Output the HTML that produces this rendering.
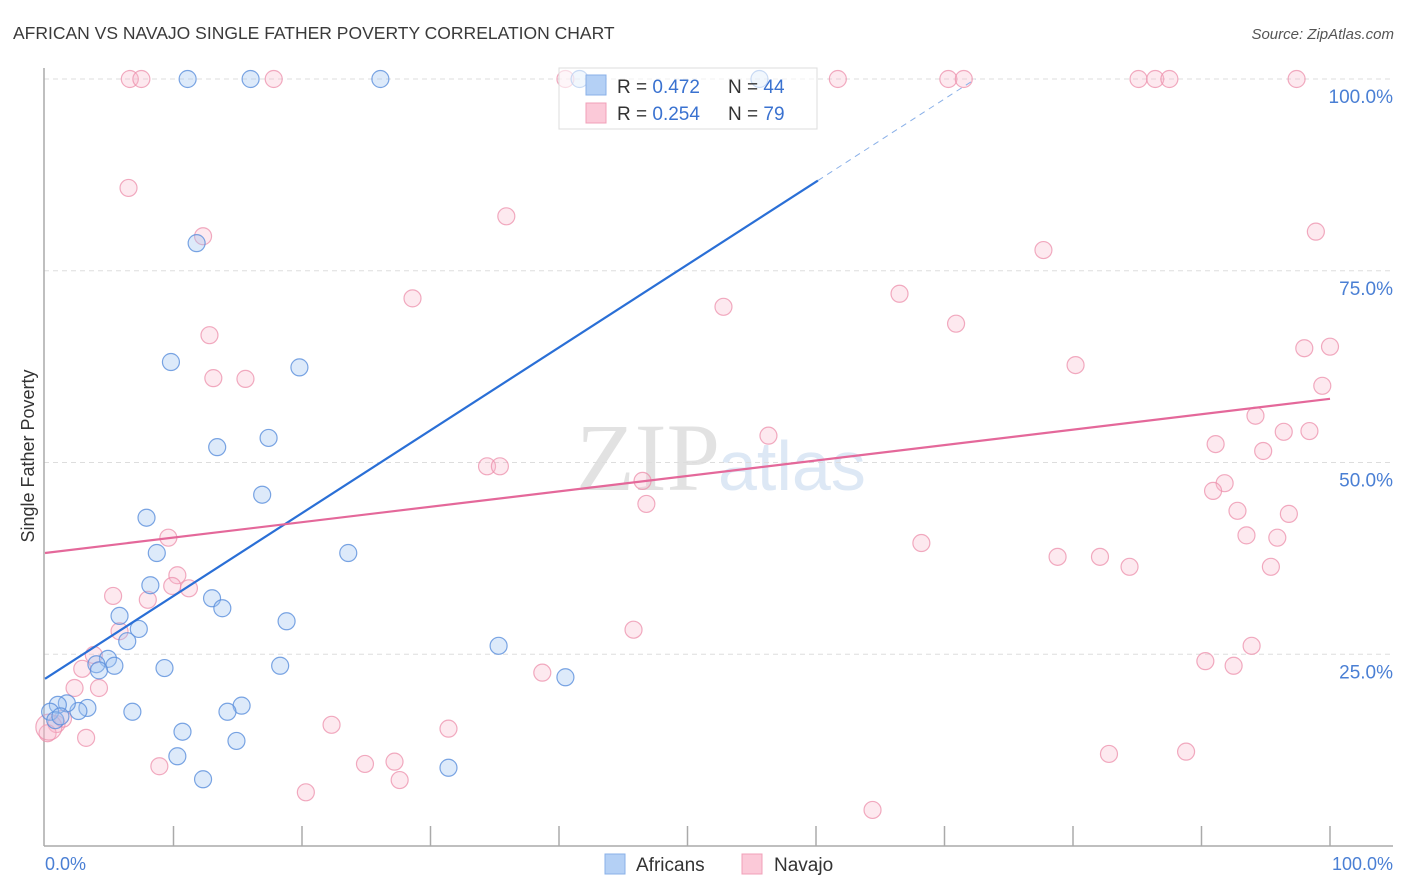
<!DOCTYPE html>
<html><head><meta charset="utf-8"><style>
body{margin:0;background:#fff;font-family:"Liberation Sans",sans-serif;}
svg{display:block}
</style></head><body>
<svg width="1406" height="892" xmlns="http://www.w3.org/2000/svg">
<text x="13" y="39" font-size="17.5" fill="#3a3a3a">AFRICAN VS NAVAJO SINGLE FATHER POVERTY CORRELATION CHART</text>
<text x="1394" y="39" font-size="15" font-style="italic" fill="#555" text-anchor="end">Source: ZipAtlas.com</text>
<text x="720" y="490" font-size="96" font-family="Liberation Serif,serif" fill="#e2e2e2" text-anchor="end">ZIP</text>
<text x="718" y="490" font-size="70" fill="#dde8f5">atlas</text>
<g id="grid"></g>
<g id="axes"></g>
<g id="pts"></g>
<g id="lines"></g>
<text transform="translate(34,456) rotate(-90)" font-size="18" fill="#333" text-anchor="middle">Single Father Poverty</text>
<text x="45" y="870" font-size="18" fill="#4a7fd4">0.0%</text>
<text x="1393" y="870" font-size="18" fill="#4a7fd4" text-anchor="end">100.0%</text>
<g>
<rect x="559" y="68" width="258" height="61" fill="#fff" fill-opacity="0.6" stroke="#ddd"/>
<rect x="586" y="75" width="20" height="20" fill="#b4d0f5" stroke="#8ab0e8"/>
<rect x="586" y="103" width="20" height="20" fill="#fbc9d8" stroke="#f0a0b8"/>
<text x="617" y="93" font-size="19" fill="#333">R = <tspan fill="#3a72d0">0.472</tspan></text>
<text x="728" y="93" font-size="19" fill="#333">N = <tspan fill="#3a72d0">44</tspan></text>
<text x="617" y="120" font-size="19" fill="#333">R = <tspan fill="#3a72d0">0.254</tspan></text>
<text x="728" y="120" font-size="19" fill="#333">N = <tspan fill="#3a72d0"> 79</tspan></text>
</g>
<g>
<rect x="605" y="854" width="20" height="20" fill="#b4d0f5" stroke="#8ab0e8"/>
<text x="636" y="871" font-size="19" fill="#333">Africans</text>
<rect x="742" y="854" width="20" height="20" fill="#fbc9d8" stroke="#f0a0b8"/>
<text x="774" y="871" font-size="19" fill="#333">Navajo</text>
</g>
</svg>
<script>
const yTicks=[100,75,50,25];
const yTickLabels=["100.0%","75.0%","50.0%","25.0%"];
const xTicks=[10,20,30,40,50,60,70,80,90,100];
const africansX=[11.1,16.0,26.1,41.6,55.6,11.8,9.8,19.8,13.4,17.4,16.9,7.9,8.7,23.6,8.2,13.0,13.8,5.8,7.3,18.8,6.4,4.9,4.0,5.4,4.2,9.3,18.3,35.3,40.5,15.3,14.2,6.8,3.3,2.6,1.7,1.0,0.4,10.7,14.9,10.3,12.3,31.4,0.8,1.2];
const africansY=[100,100,100,100,100,78.6,63.1,62.4,52.0,53.2,45.8,42.8,38.2,38.2,34.0,32.3,31.0,30.0,28.3,29.3,26.7,24.4,23.7,23.5,22.9,23.2,23.5,26.1,22.0,18.3,17.5,17.5,18.0,17.6,18.6,18.4,17.5,14.9,13.7,11.7,8.7,10.2,16.4,16.9];
const navajoX=[6.6,7.5,17.8,40.5,61.7,70.3,71.5,85.1,86.4,87.5,97.4,6.5,35.9,12.3,77.7,98.9,28.6,52.8,66.5,70.9,12.8,13.1,15.6,80.2,98.0,100,99.4,94.2,96.4,98.4,56.3,91.1,94.8,34.4,35.4,46.5,91.8,90.9,46.8,92.8,96.8,9.6,68.2,93.5,95.9,78.8,82.1,84.4,95.4,10.3,9.9,11.2,5.3,8.0,5.8,45.8,3.8,2.9,90.3,92.5,93.9,38.7,2.3,4.2,22.3,31.4,0.9,1.4,3.2,8.9,24.9,27.2,27.6,20.3,82.8,88.8,64.4,0.2,0.3];
const navajoY=[100,100,100,100,100,100,100,100,100,100,100,85.8,82.1,79.5,77.7,80.1,71.4,70.3,72.0,68.1,66.6,61.0,60.9,62.7,64.9,65.1,60.0,56.1,54.0,54.1,53.5,52.4,51.5,49.5,49.5,47.6,47.3,46.3,44.6,43.7,43.3,40.2,39.5,40.5,40.2,37.7,37.7,36.4,36.4,35.3,33.9,33.6,32.6,32.1,28.0,28.2,24.9,23.1,24.1,23.5,26.1,22.6,20.6,20.6,15.8,15.3,15.9,16.6,14.1,10.4,10.7,11.0,8.6,7.0,12.0,12.3,4.7,14.7,15.5];
const africansTrend=[21.8,1.08];
const navajoTrend=[38.2,0.201];
const NS="http://www.w3.org/2000/svg";
const sx=v=>45+v*12.85, sy=v=>846-v*7.67;
function mk(t,a,p){const e=document.createElementNS(NS,t);for(const k in a)e.setAttribute(k,a[k]);p.appendChild(e);return e;}
const grid=document.getElementById('grid'),axes=document.getElementById('axes'),pts=document.getElementById('pts'),lines=document.getElementById('lines');
yTicks.forEach((t,i)=>{
 const l=mk('line',{x1:44,x2:1393,y1:sy(t),y2:sy(t),stroke:'#ddd','stroke-dasharray':'5,4'},grid);
 
 
 const tx=mk('text',{x:1393,y:sy(t)+24,'font-size':19,fill:'#4a7fd4','text-anchor':'end'},grid);
 tx.textContent=yTickLabels[i];
 
 
});
let a=mk('line',{x1:44,x2:44,y1:68,y2:846,stroke:'#aaa','stroke-width':1.5},axes);


a=mk('line',{x1:44,x2:1393,y1:846,y2:846,stroke:'#aaa','stroke-width':1.5},axes);


xTicks.forEach(t=>{
 const l=mk('line',{x1:sx(t),x2:sx(t),y1:826,y2:846,stroke:'#aaa','stroke-width':1.5},axes);
 
 
});
navajoX.forEach((x,i)=>{
 const c=mk('circle',{cx:sx(x),cy:sy(navajoY[i]),r:i==navajoX.length-1?13:8.5,fill:'#f7b6ca','fill-opacity':0.3,stroke:'#ec8fab','stroke-opacity':0.75,'stroke-width':1.2},pts);
 
 
});
africansX.forEach((x,i)=>{
 const c=mk('circle',{cx:sx(x),cy:sy(africansY[i]),r:8.5,fill:'#9fc2f0','fill-opacity':0.35,stroke:'#5a8fdc','stroke-opacity':0.8,'stroke-width':1.2},pts);
 
 
});
const bEnd=60.15, bDash=(100-africansTrend[0])/africansTrend[1];
let ln=mk('line',{x1:sx(0),y1:sy(africansTrend[0]),x2:sx(bEnd),y2:sy(africansTrend[0]+africansTrend[1]*bEnd),stroke:'#2a6fd6','stroke-width':2.2},lines);


ln=mk('line',{x1:sx(bEnd),y1:sy(africansTrend[0]+africansTrend[1]*bEnd),x2:sx(bDash),y2:sy(100),stroke:'#8ab0e8','stroke-width':1,'stroke-dasharray':'6,5'},lines);


ln=mk('line',{x1:sx(0),y1:sy(navajoTrend[0]),x2:sx(100),y2:sy(navajoTrend[0]+navajoTrend[1]*100),stroke:'#e4689a','stroke-width':2.2},lines);


</script>
</body></html>
